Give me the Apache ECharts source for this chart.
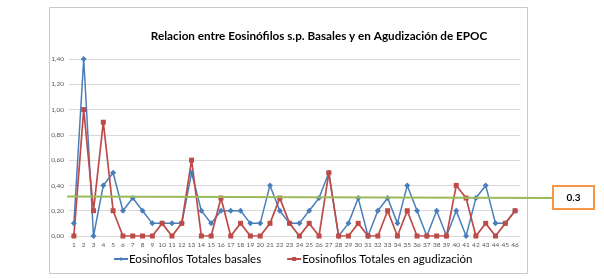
<!DOCTYPE html>
<html>
<head>
<meta charset="utf-8">
<script src="https://cdn.jsdelivr.net/npm/echarts@6/dist/echarts.min.js"></script>
<style>
  html, body { margin: 0; padding: 0; background: #fff; }
  #chart { width: 604px; height: 279px; }
</style>
</head>
<body>
<div id="chart"></div>
<script>
// categories 1..46 (patients)
const categories = ['1','2','3','4','5','6','7','8','9','10','11','12','13','14','15','16','17','18','19','20','21','22','23','24','25','26','27','28','29','30','31','32','33','34','35','36','37','38','39','40','41','42','43','44','45','46'];

// Eosinofilos Totales basales
const basales = [0.1, 1.4, 0, 0.4, 0.5, 0.2, 0.3, 0.2, 0.1, 0.1, 0.1, 0.1, 0.5, 0.2, 0.1, 0.2, 0.2, 0.2, 0.1, 0.1, 0.4, 0.2, 0.1, 0.1, 0.2, 0.3, 0.5, 0, 0.1, 0.3, 0, 0.2, 0.3, 0.1, 0.4, 0.2, 0, 0.2, 0, 0.2, 0, 0.3, 0.4, 0.1, 0.1, 0.2];

// Eosinofilos Totales en agudización
const agudizacion = [0, 1.0, 0.2, 0.9, 0.2, 0, 0, 0, 0, 0.1, 0, 0.1, 0.6, 0, 0, 0.3, 0, 0.1, 0, 0, 0.1, 0.3, 0.1, 0, 0.1, 0, 0.5, 0, 0, 0.1, 0, 0, 0.2, 0, 0.2, 0, 0, 0, 0, 0.4, 0.3, 0, 0.1, 0, 0.1, 0.2];

const threshold = 0.3;
const thresholdLabel = '0.3';

const myChart = echarts.init(document.getElementById('chart'));

const option = {
    backgroundColor: '#fff',
    animation: false,
    title: {
        text: 'Relacion entre Eosinófilos s.p. Basales y en Agudización de EPOC',
        left: 314,
        top: 25,
        textAlign: 'center',
        textStyle: {
            fontFamily: 'Lato',
            fontSize: 11.7,
            fontWeight: 'bold',
            color: '#000'
        }
    },
    grid: {
        left: 69,
        right: 84,
        top: 59,
        bottom: 43
    },
    xAxis: {
        type: 'category',
        data: categories,
        boundaryGap: true,
        axisLine: { show: true, lineStyle: { color: '#d9d9d9' } },
        axisTick: { show: false },
        axisLabel: {
            interval: 0,
            fontSize: 6.5,
            fontFamily: 'Lato',
            color: '#595959',
            margin: 5
        }
    },
    yAxis: {
        type: 'value',
        min: 0,
        max: 1.4,
        interval: 0.2,
        axisLine: { show: false },
        axisTick: { show: false },
        axisLabel: {
            fontSize: 6.5,
            fontFamily: 'Lato',
            color: '#595959',
            margin: 5,
            formatter: v => v.toFixed(2).replace('.', ',')
        },
        splitLine: { lineStyle: { color: '#d9d9d9', width: 1 } }
    },
    legend: {
        bottom: 9,
        left: 108,
        itemGap: 25,
        itemWidth: 14,
        itemHeight: 5,
        textStyle: {
            fontFamily: 'Lato',
            fontSize: 11.5,
            color: '#000',
            padding: [0, 0, 0, -4]
        },
        data: ['Eosinofilos Totales basales', 'Eosinofilos Totales en agudización']
    },
    series: [
        {
            name: 'Eosinofilos Totales basales',
            type: 'line',
            data: basales,
            symbol: 'diamond',
            symbolSize: 6,
            lineStyle: { color: '#4A7EBB', width: 1.5 },
            itemStyle: { color: '#4A7EBB' }
        },
        {
            name: 'Eosinofilos Totales en agudización',
            type: 'line',
            data: agudizacion,
            symbol: 'rect',
            symbolSize: 5,
            lineStyle: { color: '#BE4B48', width: 1.7 },
            itemStyle: { color: '#BE4B48' }
        }
    ]
};

myChart.setOption(option);

// threshold annotation: green line out to the boxed label on the right
const yThr = myChart.convertToPixel({ yAxisIndex: 0 }, threshold);
myChart.setOption({
    graphic: [
        {
            type: 'rect',
            shape: { x: 49.5, y: 7.5, width: 478, height: 266 },
            style: { fill: 'none', stroke: '#c8c8c8', lineWidth: 1 },
            z: -1
        },
        {
            type: 'line',
            shape: { x1: 67, y1: yThr - 1.5, x2: 552, y2: yThr },
            style: { stroke: '#9BBB59', lineWidth: 2 },
            z: 5
        },
        {
            type: 'rect',
            shape: { x: 553, y: yThr - 12, width: 41, height: 23 },
            style: { fill: '#fff', stroke: '#F79646', lineWidth: 2 },
            z: 5
        },
        {
            type: 'text',
            x: 573.5,
            y: yThr,
            style: {
                text: thresholdLabel,
                fontFamily: 'Lato',
                fontSize: 10,
                fontWeight: 'bold',
                fill: '#000',
                align: 'center',
                verticalAlign: 'middle'
            },
            z: 6
        }
    ]
});
</script>
</body>
</html>
